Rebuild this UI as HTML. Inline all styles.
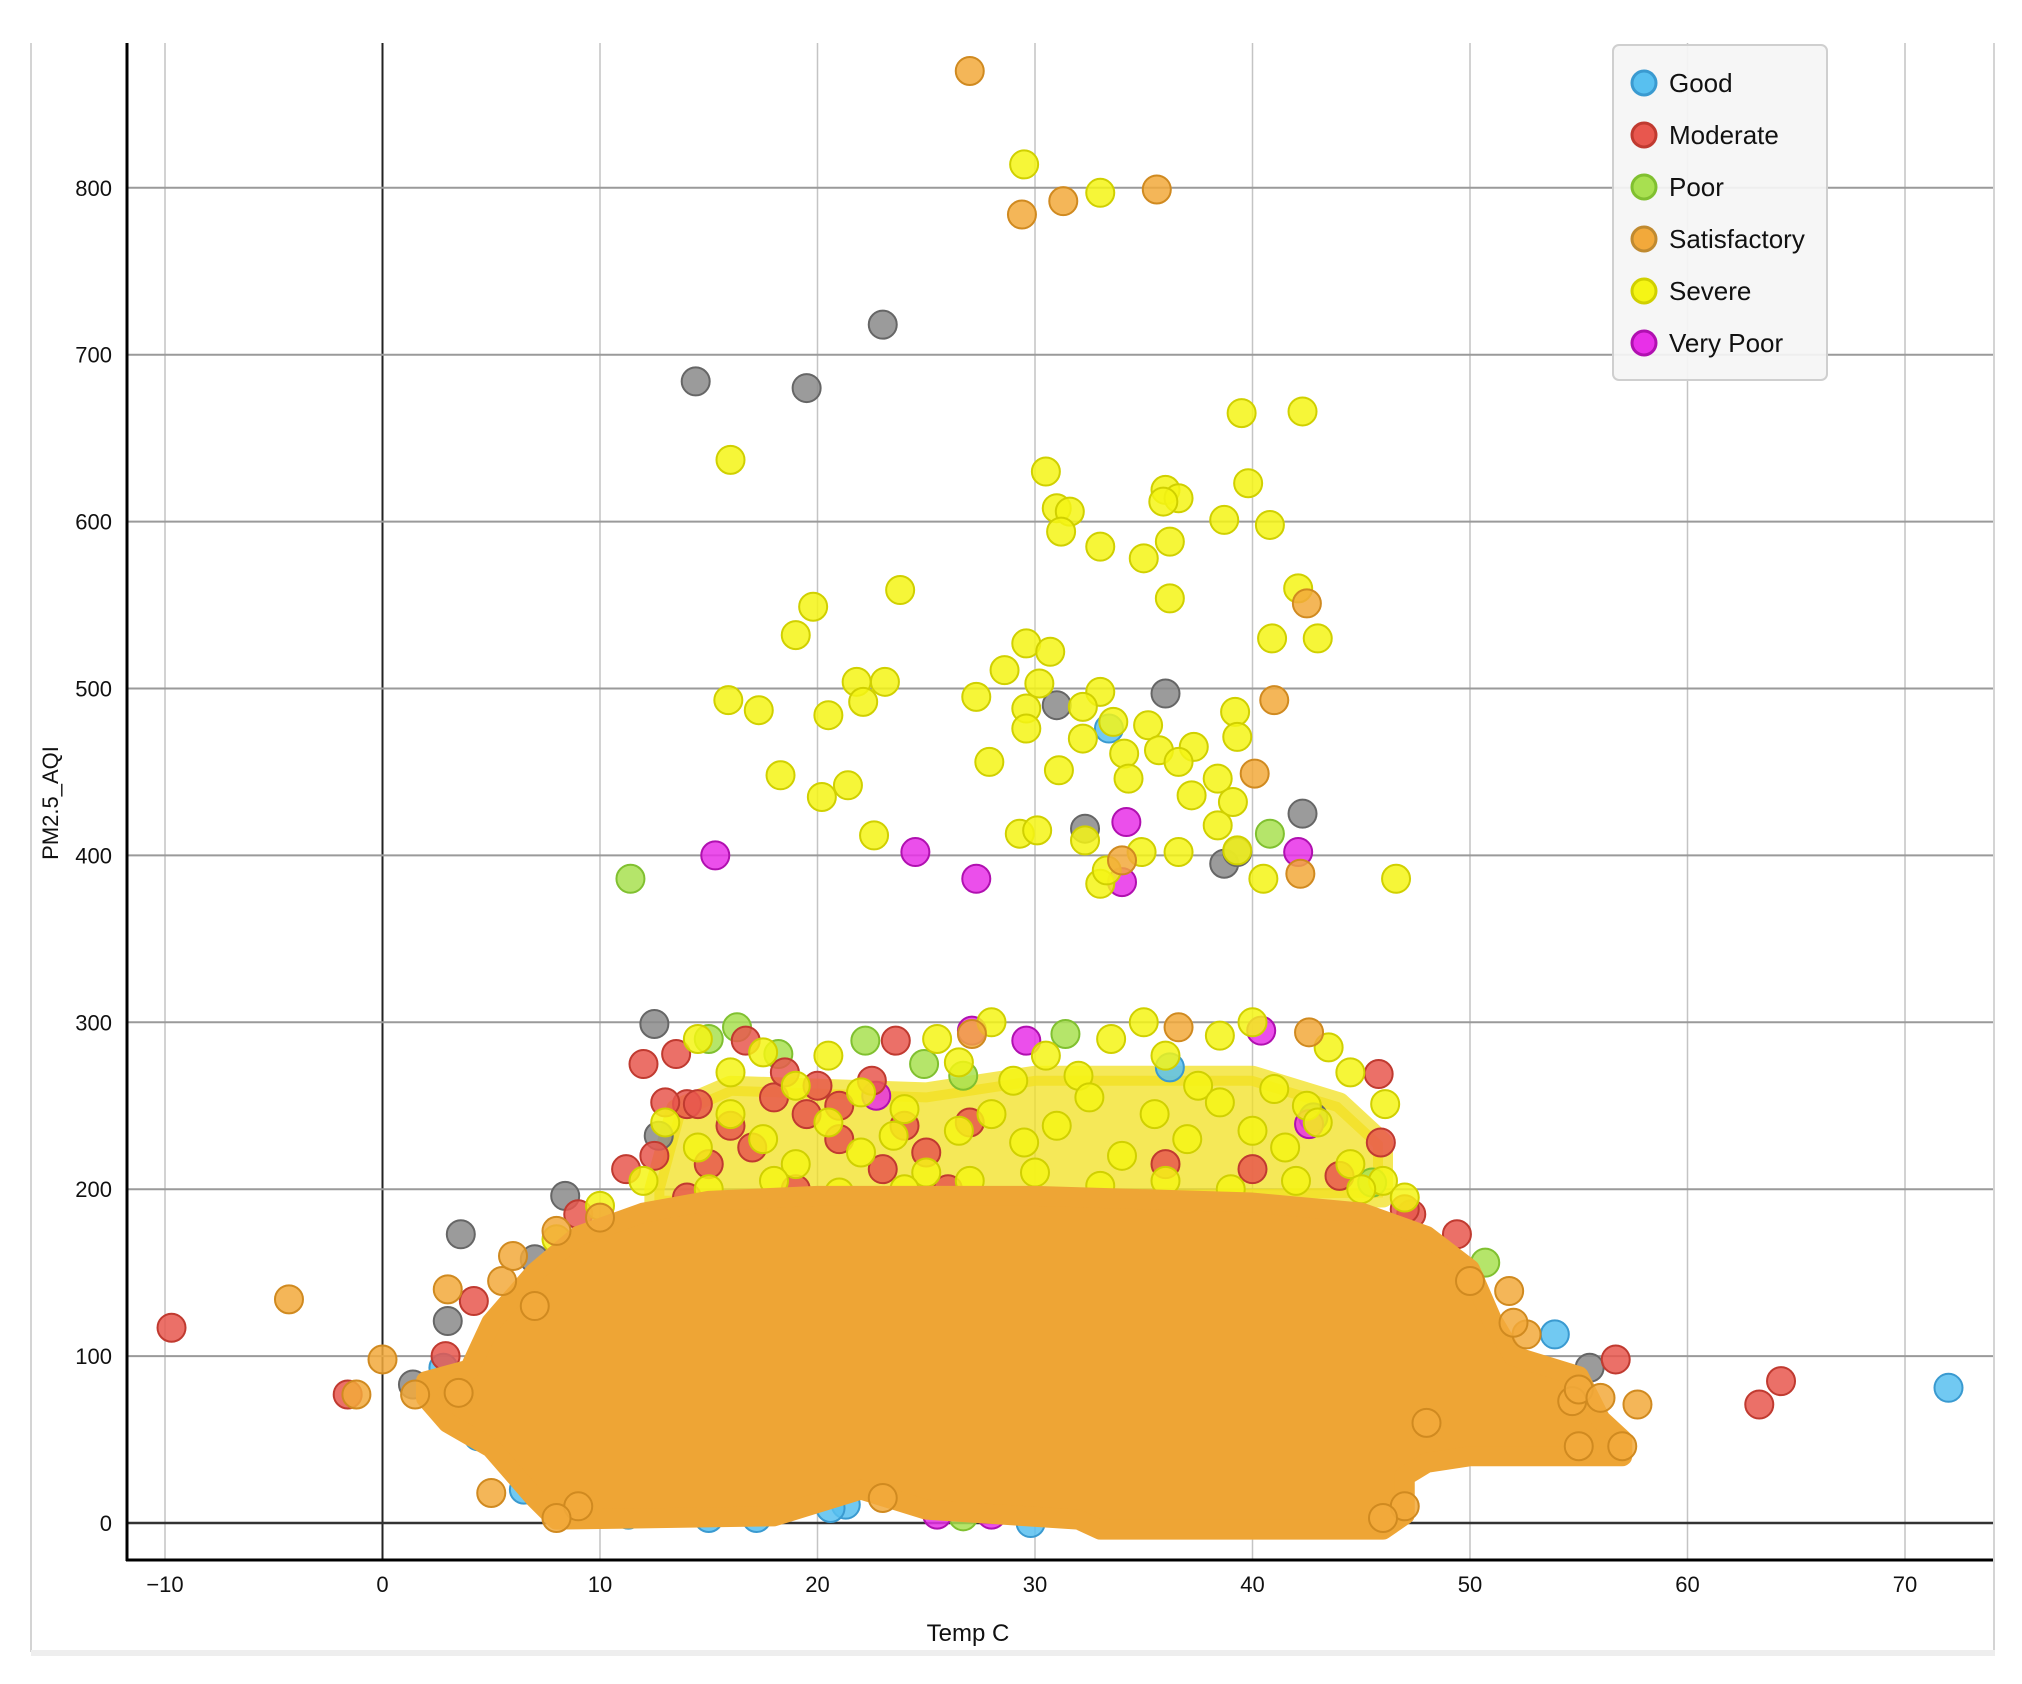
<!DOCTYPE html>
<html><head><meta charset="utf-8"><style>
html,body{margin:0;padding:0;background:#fff;}
svg{display:block;font-family:"Liberation Sans",sans-serif;}
</style></head><body>
<svg id="chart" width="2022" height="1684" viewBox="0 0 2022 1684" xmlns="http://www.w3.org/2000/svg">
<rect x="0" y="0" width="2022" height="1684" fill="#fff"/>
<line x1="31" y1="43" x2="31" y2="1652" stroke="#d4d4d4" stroke-width="2"/>
<line x1="1994" y1="43" x2="1994" y2="1652" stroke="#d4d4d4" stroke-width="2"/>
<rect x="31" y="1650" width="1964" height="6" fill="#eeeeee"/>
<g id="grid"></g>
<g id="marks"></g>
<g id="axes"></g>
<g id="legend">
  <rect x="1613" y="45" width="214" height="335" rx="6" fill="#f5f5f5" fill-opacity="0.92" stroke="#cfcfcf" stroke-width="2"/>
</g>
</svg>
<script>
const xTicks=[-10,0,10,20,30,40,50,60,70];
const yTicks=[0,100,200,300,400,500,600,700,800];
const categories=["Good","Moderate","Poor","Satisfactory","Severe","Very Poor"];
const goodPts=[[72,81],[53.9,113],[2.8,93],[4.4,52],[17.2,3],[21.3,11],[20.6,9],[29.8,0],[11.3,5],[15,3],[33.4,476],[36.2,273],[4,65],[6.5,20],[13,8]];
const moderatePts=[[-9.7,117],[-1.6,77],[56.7,98],[63.3,71],[64.3,85],[45.8,269],[45.9,228],[11.2,212],[23.6,289],[16.7,289],[13.5,281],[14,251],[14.5,251],[49.4,173],[47.3,185],[2.9,100],[4.2,133],[44.7,5],[33,2],[38.8,2],
[12,275],[13,252],[18,255],[19.5,245],[21,250],[22.5,265],[15,215],[17,225],[19,200],[21,230],[23,212],[25,222],[27,240],[12.5,220],[14,195],[9,185],[44,208],[47,188],[26,200],[36,215],[40,212],[18.5,270],[20,262],[24,238],[16,238]];
const poorPts=[[11.4,386],[40.8,413],[16.3,297],[15,290],[18.2,281],[22.2,289],[24.9,275],[31.4,293],[26.7,268],[50.7,156],[26.7,4],[45.5,204]];
const satisfactoryPts=[[27,870],[35.6,799],[29.4,784],[31.3,792],[42.5,551],[41,493],[40.1,449],[34,397],[42.2,389],[-4.3,134],[0,98],[-1.2,77],[57.7,71],[52.6,113],[51.8,139],[36.6,297],[27.1,293],[42.6,294],[23,15],[54.7,73],[5,18],
[5.5,145],[6,160],[7,130],[3,140],[8,175],[10,183],[50,145],[52,120],[55,80],[56,75],[57,46],[55,46],[47,10],[46,3],[48,60],[1.5,77],[3.5,78],[9,10],[8,3]];
const severePts=[[29.5,814],[33,797],[16,637],[39.5,665],[42.3,666],[30.5,630],[39.8,623],[31,608],[31.6,606],[31.2,594],[36,619],[36.6,614],[35.9,612],[38.7,601],[40.8,598],[36.2,588],[33,585],[35,578],[42.1,560],[36.2,554],[19.8,549],[23.8,559],[19,532],[40.9,530],[43,530],[29.6,527],[30.7,522],[28.6,511],[21.8,504],[23.1,504],[30.2,503],[15.9,493],[17.3,487],[20.5,484],[22.1,492],[27.3,495],[29.6,488],[33,498],[32.2,489],[39.2,486],[29.6,476],[32.2,470],[33.6,480],[35.2,478],[39.3,471],[34.1,461],[35.7,463],[37.3,465],[36.6,456],[27.9,456],[31.1,451],[34.3,446],[38.4,446],[18.3,448],[21.4,442],[20.2,435],[37.2,436],[39.1,432],[38.4,418],[22.6,412],[29.3,413],[30.1,415],[32.3,409],[34.9,402],[36.6,402],[39.3,403],[40.5,386],[33,383],[33.3,391],[46.6,386],[46.1,251],
[14.5,290],[16,270],[17.5,282],[19,262],[20.5,280],[22,258],[24,248],[25.5,290],[26.5,276],[28,300],[29,265],[30.5,280],[32,268],[33.5,290],[35,300],[36,280],[37.5,262],[38.5,292],[40,300],[41,260],[42.5,250],[43.5,285],[44.5,270],
[13,240],[14.5,225],[16,245],[17.5,230],[19,215],[20.5,240],[22,222],[23.5,232],[25,210],[26.5,235],[28,245],[29.5,228],[31,238],[32.5,255],[34,220],[35.5,245],[37,230],[38.5,252],[40,235],[41.5,225],[43,240],[44.5,215],[46,205],
[12,205],[15,200],[18,205],[21,198],[24,200],[27,205],[30,210],[33,202],[36,205],[39,200],[42,205],[45,200],[47,195],[10,190],[8,170]];
const veryPoorPts=[[15.3,400],[24.5,402],[27.3,386],[34.2,420],[34,384],[42.1,402],[27.1,295],[29.6,289],[40.4,295],[42.6,239],[25.5,5],[28,5],[22.7,256]];
const grayPts=[[23,718],[14.4,684],[19.5,680],[36,497],[31,490],[32.3,416],[42.3,425],[38.7,395],[39.3,402],[12.5,299],[12.7,232],[8.4,196],[3.6,173],[3,121],[7,158],[42.8,243],[55.5,93],[3.2,71],[1.4,83],[45.5,17]];
const blobOutline=[[2,85],[4,92],[5,120],[7,150],[9,172],[12,186],[15,193],[20,196],[30,196],[40,192],[45,186],[48,172],[50,152],[51,122],[52,100],[55,88],[56,62],[57,50],[57,40],[50,40],[48,36],[47,28],[47,5],[46,-4],[33,-4],[32,2],[25,8],[22,20],[20,12],[18,4],[8,2],[7,15],[6,30],[5,45],[3,60],[2,75]];
const bandOutline=[[12.5,200],[13.5,248],[16,262],[25,258],[30,268],[40,268],[44,252],[46,228],[46,195],[12.5,190]];

const X0=382.5, PXX=21.75, Y0=1523, PXY=1.669;
function sx(v){return X0+v*PXX;}
function sy(v){return Y0-v*PXY;}
const NS="http://www.w3.org/2000/svg";
function mk(tag,attrs,parent){const e=document.createElementNS(NS,tag);for(const k in attrs)e.setAttribute(k,attrs[k]);parent.appendChild(e);return e;}
const grid=document.getElementById('grid'),marks=document.getElementById('marks'),axes=document.getElementById('axes'),legend=document.getElementById('legend');
const L=127,R=1993,T=43,B=1560;
xTicks.forEach(t=>{
  const g=mk('line',{x1:sx(t),x2:sx(t),y1:T,y2:B,stroke:t===0?'#222':'#c4c4c4','stroke-width':t===0?2:1.5},grid);
  
  
  const lb=mk('text',{x:sx(t),y:1592,'text-anchor':'middle','font-size':22,fill:'#111'},axes);
  lb.textContent=t<0?'\u2212'+Math.abs(t):String(t);
  
  
});
yTicks.forEach(t=>{
  const g=mk('line',{x1:L,x2:R,y1:sy(t),y2:sy(t),stroke:t===0?'#333':'#9a9a9a','stroke-width':t===0?2.5:2},grid);
  
  
  const lb=mk('text',{x:112,y:sy(t)+8,'text-anchor':'end','font-size':22,fill:'#111'},axes);
  lb.textContent=String(t);
  
  
});
function poly(pts,fill,stroke,name,op){
  const p=mk('polygon',{points:pts.map(d=>sx(d[0])+','+sy(d[1])).join(' '),fill:fill,'fill-opacity':op,stroke:stroke,'stroke-opacity':op,'stroke-width':20,'stroke-linejoin':'round'},marks);
  
  
}
function dots(pts,fill,stroke,name){
  pts.forEach(d=>{
    const c=mk('circle',{cx:sx(d[0]),cy:sy(d[1]),r:14,fill:fill,'fill-opacity':0.85,stroke:stroke,'stroke-width':2},marks);
    
    
  });
}
poly(bandOutline,'#f2e020','#f2e020','high-aqi-band',0.75);
dots(grayPts,'#8a8a8a','#666','point-unlabeled');
dots(goodPts,'#58c0f0','#3a9ad0','point-good');
dots(poorPts,'#a8e050','#80c030','point-poor');
dots(veryPoorPts,'#e830e8','#b010b0','point-very-poor');
dots(moderatePts,'#e8574e','#c03a30','point-moderate');
dots(severePts,'#f5f515','#d0d000','point-severe');
poly(blobOutline,'#eea535','#eea535','satisfactory-dense-region',1);
dots(satisfactoryPts,'#f2a93b','#d08a20','point-satisfactory');
const la=mk('line',{x1:L,x2:L,y1:T,y2:B+1,stroke:'#000','stroke-width':3},axes);


const ba=mk('line',{x1:L-1,x2:R,y1:B,y2:B,stroke:'#000','stroke-width':3},axes);


const xt=mk('text',{x:968,y:1641,'text-anchor':'middle','font-size':24,fill:'#111'},axes);
xt.textContent='Temp C';


const yt=mk('text',{x:0,y:0,'text-anchor':'middle','font-size':22,fill:'#111',transform:'translate(58,803) rotate(-90)'},axes);
yt.textContent='PM2.5_AQI';


const legFill=['#58c0f0','#e8574e','#a8e050','#f2a93b','#f5f515','#e830e8'];
const legStroke=['#3a9ad0','#c03a30','#80c030','#c08a30','#d0d000','#b010b0'];
categories.forEach((c,i)=>{
  const y=83+i*52;
  const m=mk('circle',{cx:1644,cy:y,r:12,fill:legFill[i],stroke:legStroke[i],'stroke-width':3},legend);
  
  
  const t=mk('text',{x:1669,y:y+9,'font-size':26,fill:'#111'},legend);
  t.textContent=c;
  
  
});
</script>
</body></html>
